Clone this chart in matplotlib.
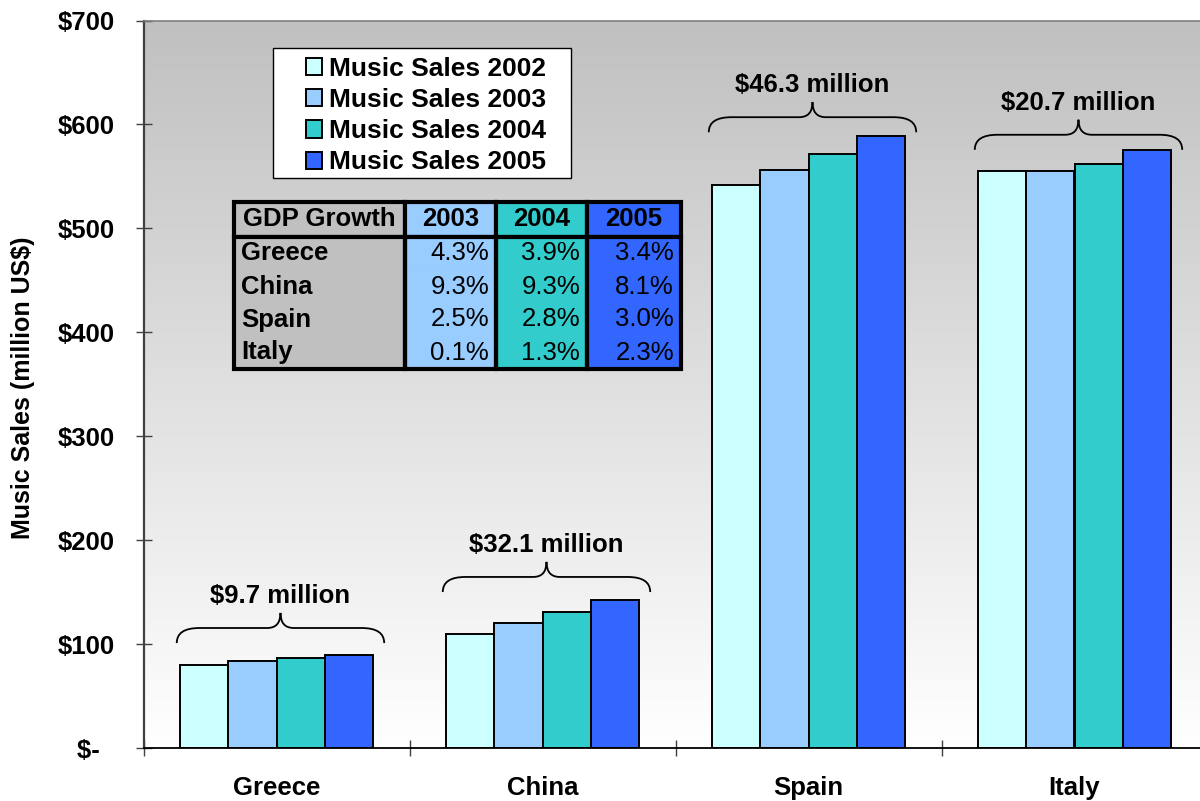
import matplotlib
matplotlib.use("Agg")
import matplotlib.pyplot as plt
import numpy as np
from matplotlib.colors import LinearSegmentedColormap
from matplotlib.path import Path
from matplotlib.patches import PathPatch, Rectangle
from matplotlib.table import Table

plt.rcParams['font.family'] = ['Liberation Sans', 'DejaVu Sans']

countries = ['Greece', 'China', 'Spain', 'Italy']
years = ['2002', '2003', '2004', '2005']

# music sales, million US$
sales_2002 = [80.5, 110.2, 542.2, 554.9]
sales_2003 = [84.0, 120.5, 556.3, 555.6]
sales_2004 = [87.0, 131.3, 571.2, 562.1]
sales_2005 = [90.2, 142.3, 588.5, 575.6]

# GDP growth, %
gdp_years = ['2003', '2004', '2005']
gdp_2003 = [4.3, 9.3, 2.5, 0.1]
gdp_2004 = [3.9, 9.3, 2.8, 1.3]
gdp_2005 = [3.4, 8.1, 3.0, 2.3]

yticks = [0, 100, 200, 300, 400, 500, 600, 700]

bar_colors = ['#CCFFFF', '#99CCFF', '#33CCCC', '#3366FF']
col_colors = ['#C0C0C0', '#99CCFF', '#33CCCC', '#3366FF']
brace_gap = [11, 8, 4, 0]
FS = 18.5

W, H = 1200, 801
fig = plt.figure(figsize=(W / 100, H / 100), dpi=100)
ax = fig.add_axes([143.5 / W, (H - 748.3) / H, 1064 / W, 727.8 / H])
ax.set_xlim(-0.5, 3.5)
ax.set_ylim(0, 700)

# grey-to-white plot area
cmap = LinearSegmentedColormap.from_list('bg', ['#C0C0C0', '#FFFFFF'])
ax.imshow(np.linspace(0, 1, 256).reshape(-1, 1), cmap=cmap, aspect='auto',
          extent=(-0.5, 3.5, 0, 700), origin='upper', zorder=0)

x = np.arange(len(countries))
bw = 1 / 5.5
series = [sales_2002, sales_2003, sales_2004, sales_2005]
bars = []
for i, (vals, c) in enumerate(zip(series, bar_colors)):
    b = ax.bar(x + (i - 1.5) * bw, vals, bw, color=c, edgecolor='black',
               linewidth=1.4, zorder=2, label='Music Sales ' + years[i])
    bars.append(b)


def brace(ax, xc, half, y0, dy=14.5, rx=0.085, rc=0.05):
    xl, xr = xc - half, xc + half
    yh, yp = y0 + dy, y0 + 2 * dy
    verts = [(xl, y0), (xl, yh), (xl + rx, yh),
             (xc - rc, yh),
             (xc, yh), (xc, yp),
             (xc, yh), (xc + rc, yh),
             (xr - rx, yh),
             (xr, yh), (xr, y0)]
    codes = [Path.MOVETO, Path.CURVE3, Path.CURVE3, Path.LINETO,
             Path.CURVE3, Path.CURVE3, Path.CURVE3, Path.CURVE3,
             Path.LINETO, Path.CURVE3, Path.CURVE3]
    ax.add_patch(PathPatch(Path(verts, codes), facecolor='none',
                           edgecolor='black', lw=1.3, zorder=3, clip_on=False))
    return yp


for i in range(len(countries)):
    top = max(s[i] for s in series)
    yp = brace(ax, i + 0.015, 0.39, top + brace_gap[i])
    diff = sales_2005[i] - sales_2002[i]
    ax.text(i + 0.015, yp + 16, f'${diff:.1f} million', ha='center', va='center',
            fontsize=FS, fontweight='bold', zorder=3)

# axes styling
ax.spines['right'].set_visible(False)
ax.spines['top'].set_color('#808080')
ax.spines['top'].set_linewidth(1.2)
ax.spines['left'].set_color('#404040')
ax.spines['left'].set_linewidth(1.6)
ax.spines['bottom'].set_color('black')
ax.spines['bottom'].set_linewidth(1.3)
for s in ax.spines.values():
    s.set_zorder(4)

ax.set_yticks(yticks)
ax.set_yticklabels(['$-  '] + [f'${v}' for v in yticks[1:]],
                   fontsize=FS, fontweight='bold')
ax.tick_params(axis='y', direction='inout', length=12, width=1,
               color='#404040', pad=15)

ax.set_xticks(x)
ax.set_xticklabels(countries, fontsize=FS, fontweight='bold')
ax.set_xticks(np.arange(-0.5, 4, 1), minor=True)
ax.tick_params(axis='x', which='major', length=0, pad=20)
ax.tick_params(axis='x', which='minor', direction='inout', length=12,
               width=1, color='#404040')

ax.set_ylabel('Music Sales (million US$)', fontsize=18, fontweight='bold',
              va='center')
ax.yaxis.set_label_coords((23 - 143.5) / 1064, (748.3 - 388) / 727.8)

# legend box
ax.add_patch(Rectangle((273 / W, 1 - 177.5 / H), 297.5 / W, 129.5 / H,
                       transform=fig.transFigure, facecolor='white',
                       edgecolor='black', lw=1, zorder=4, clip_on=False))
leg = ax.legend(handles=bars, loc='upper left',
                bbox_to_anchor=(305.5 / W, 1 - 57 / H),
                bbox_transform=fig.transFigure, frameon=False,
                prop={'size': 19, 'weight': 'bold'},
                handlelength=0.62, handleheight=0.62, handletextpad=0.27,
                labelspacing=0.27, borderpad=0, borderaxespad=0)
leg.set_zorder(5)

# GDP growth table
tx0, ty0, tw, th = 234, 202, 447, 167
tbl = Table(ax, bbox=[(tx0 - 143.5) / 1064, (748.3 - ty0 - th) / 727.8,
                      tw / 1064, th / 727.8])
tbl.auto_set_font_size(False)
col_w = [171, 91, 91, 94]
head_h, row_h = 35, 33


def add(r, c, text, loc, weight, h, edge, pad=0.05):
    cell = tbl.add_cell(r, c, width=col_w[c], height=h, text=text, loc=loc,
                        facecolor=col_colors[c], edgecolor=edge)
    cell.PAD = pad
    cell.set_linewidth(3 if edge == 'black' else 0.5)
    cell.get_text().set_fontsize(FS)
    cell.get_text().set_fontweight(weight)
    return cell


add(0, 0, 'GDP Growth', 'left', 'bold', head_h, 'black')
for j, yr in enumerate(gdp_years):
    add(0, j + 1, yr, 'center', 'bold', head_h, 'black')

gdp = [gdp_2003, gdp_2004, gdp_2005]
for i, name in enumerate(countries):
    add(i + 1, 0, name, 'left', 'bold', row_h, col_colors[0], pad=0.04)
    for j in range(3):
        add(i + 1, j + 1, f'{gdp[j][i]:.1f}%', 'right', 'normal', row_h,
            col_colors[j + 1], pad=0.075)

tbl.set_zorder(4)
ax.add_table(tbl)

# column frames over the body rows (no lines between rows)
body_top = ty0 + head_h * th / (head_h + 4 * row_h)
cx = tx0
for w in col_w:
    w_px = w * tw / sum(col_w)
    ax.add_patch(Rectangle((cx / W, 1 - (ty0 + th) / H), w_px / W,
                           (ty0 + th - body_top) / H,
                           transform=fig.transFigure, facecolor='none',
                           edgecolor='black', lw=3, zorder=4.5, clip_on=False))
    cx += w_px

fig.savefig('out.png', dpi=100)
